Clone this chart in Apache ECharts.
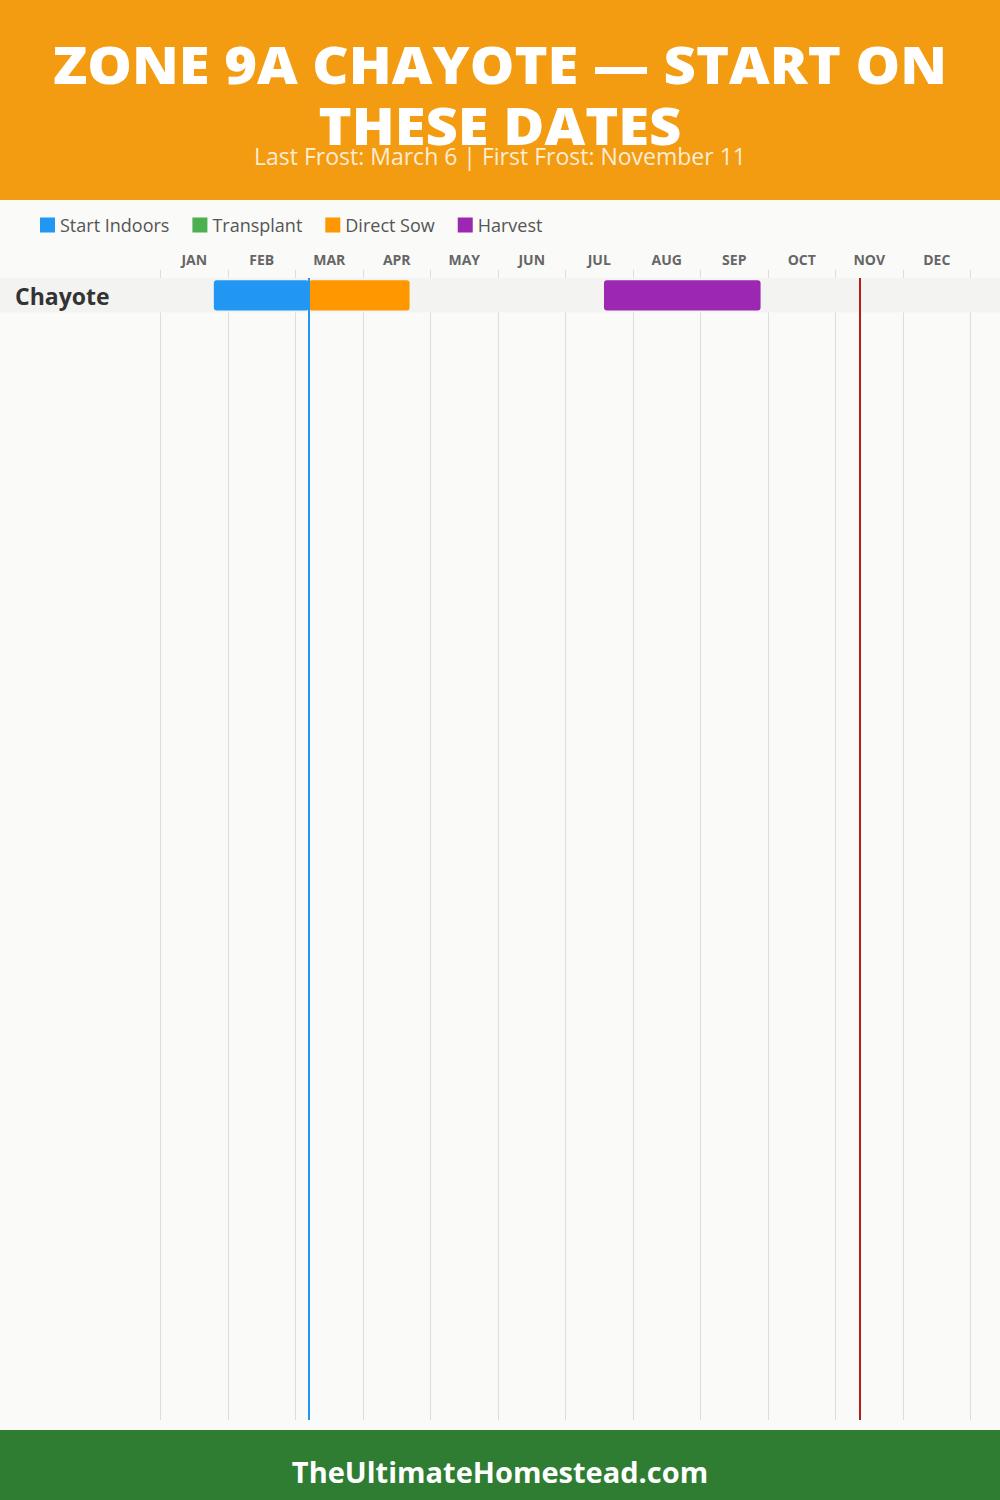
<!DOCTYPE html>
<html>
<head>
<meta charset="utf-8">
<script src="https://cdn.jsdelivr.net/npm/echarts@6/dist/echarts.min.js"></script>
<style>
html,body{margin:0;padding:0;background:#FAFAF8;}
#chart{width:1000px;height:1500px;}
</style>
</head>
<body>
<div id="chart"></div>
<script>
// ---- data (month units: 0 = Jan 1, 12 = Dec 31) ----
const months = ['JAN','FEB','MAR','APR','MAY','JUN','JUL','AUG','SEP','OCT','NOV','DEC'];
const crops = ['Chayote'];
const stageNames = ['Start Indoors','Transplant','Direct Sow','Harvest'];
const stageColors = ['#2196F3','#4CAF50','#FF9800','#9C27B0'];
// [start, end, cropIndex]
const startIndoors = [[0.79, 2.2, 0]];
const transplant = [];
const directSow = [[2.2, 3.69, 0]];
const harvest = [[6.57, 8.89, 0]];
const lastFrost = 2.2;    // March 6
const firstFrost = 10.36; // November 11
const titleLines = ['ZONE 9A CHAYOTE — START ON', 'THESE DATES'];
const subtitleText = 'Last Frost: March 6 | First Frost: November 11';
const footerText = 'TheUltimateHomestead.com';

const rowCapacity = 33;
const FONT = '"Open Sans", "Noto Sans", sans-serif';

const chart = echarts.init(document.getElementById('chart'), null, {renderer: 'svg'});

function barRender(color) {
  return function (params, api) {
    const p0 = api.coord([api.value(0), api.value(2) + 0.065]);
    const p1 = api.coord([api.value(1), api.value(2) + 0.94]);
    return {
      type: 'rect',
      shape: {x: p0[0], y: p0[1], width: p1[0] - p0[0], height: p1[1] - p0[1], r: 3},
      style: {fill: color}
    };
  };
}

const bandData = crops.map((c, i) => [i, c]);
const stageData = [startIndoors, transplant, directSow, harvest];

const series = [{
  type: 'custom',
  name: 'rows',
  xAxisIndex: 1,
  yAxisIndex: 0,
  z: 1,
  silent: true,
  data: bandData,
  encode: {y: 0},
  renderItem: function (params, api) {
    const idx = api.value(0);
    const top = api.coord([0, idx]);
    const bot = api.coord([0, idx + 1]);
    return {
      type: 'group',
      children: [{
        type: 'rect',
        shape: {x: 0, y: top[1], width: api.getWidth(), height: bot[1] - top[1]},
        style: {fill: '#F3F3F2'}
      }, {
        type: 'text',
        x: 15,
        y: (top[1] + bot[1]) / 2 + 1,
        style: {
          text: crops[idx],
          fill: '#333333',
          font: 'bold 23px ' + FONT,
          verticalAlign: 'middle',
          align: 'left'
        }
      }]
    };
  }
}];

stageNames.forEach((name, i) => {
  const s = {
    type: 'custom',
    name: name,
    xAxisIndex: 1,
    yAxisIndex: 0,
    z: 3,
    itemStyle: {color: stageColors[i]},
    data: stageData[i],
    encode: {x: [0, 1], y: 2},
    renderItem: barRender(stageColors[i])
  };
  if (i === 3) {
    s.markLine = {
      silent: true,
      symbol: ['none', 'none'],
      label: {show: false},
      z: 5,
      data: [
        {xAxis: lastFrost, lineStyle: {color: '#2196F3', width: 2, type: 'solid'}},
        {xAxis: firstFrost, lineStyle: {color: '#B71C1C', width: 2, type: 'solid'}}
      ]
    };
  }
  series.push(s);
});

const option = {
  backgroundColor: '#FAFAF8',
  animation: false,
  graphic: [{
    type: 'rect', z: -1,
    shape: {x: 0, y: 0, width: 1000, height: 200},
    style: {fill: '#F39C12'}
  }, {
    type: 'rect', z: -1,
    shape: {x: 0, y: 1430, width: 1000, height: 70},
    style: {fill: '#2E7D32'}
  }, {
    type: 'text', z: 10,
    x: 500, y: 64, scaleX: 1.1,
    style: {text: titleLines[0], fill: '#FFFFFF', font: '800 51px ' + FONT, lineHeight: 44, align: 'center', verticalAlign: 'middle'}
  }, {
    type: 'text', z: 10,
    x: 500, y: 125, scaleX: 1.1,
    style: {text: titleLines[1], fill: '#FFFFFF', font: '800 51px ' + FONT, lineHeight: 44, align: 'center', verticalAlign: 'middle'}
  }, {
    type: 'text', z: 9,
    x: 500, y: 156,
    style: {text: subtitleText, fill: 'rgba(255,255,255,0.82)', font: '23px ' + FONT, lineHeight: 20, align: 'center', verticalAlign: 'middle'}
  }, {
    type: 'text', z: 10,
    x: 500, y: 1471,
    style: {text: footerText, fill: '#FFFFFF', font: 'bold 29px ' + FONT, align: 'center', verticalAlign: 'middle'}
  }],
  legend: {
    data: stageNames,
    left: 40,
    top: 216,
    padding: 0,
    icon: 'rect',
    itemWidth: 15,
    itemHeight: 15,
    itemGap: 23,
    textStyle: {color: '#555555', fontSize: 18, fontFamily: FONT},
    selectedMode: false
  },
  grid: {left: 160.5, right: 29.5, top: 278, bottom: 80, containLabel: false},
  xAxis: [{
    type: 'category',
    data: months,
    position: 'top',
    boundaryGap: true,
    axisLine: {show: false},
    axisTick: {show: true, length: 8, lineStyle: {color: '#DDDDDD'}},
    axisLabel: {color: '#666666', fontSize: 14, fontWeight: 'bold', margin: 12, fontFamily: FONT},
    splitLine: {show: true, lineStyle: {color: '#DDDDDD', width: 1}}
  }, {
    type: 'value',
    min: 0,
    max: 12,
    show: false
  }],
  yAxis: [{
    type: 'value',
    inverse: true,
    min: 0,
    max: rowCapacity,
    show: false
  }],
  series: series
};

chart.setOption(option);
</script>
</body>
</html>
